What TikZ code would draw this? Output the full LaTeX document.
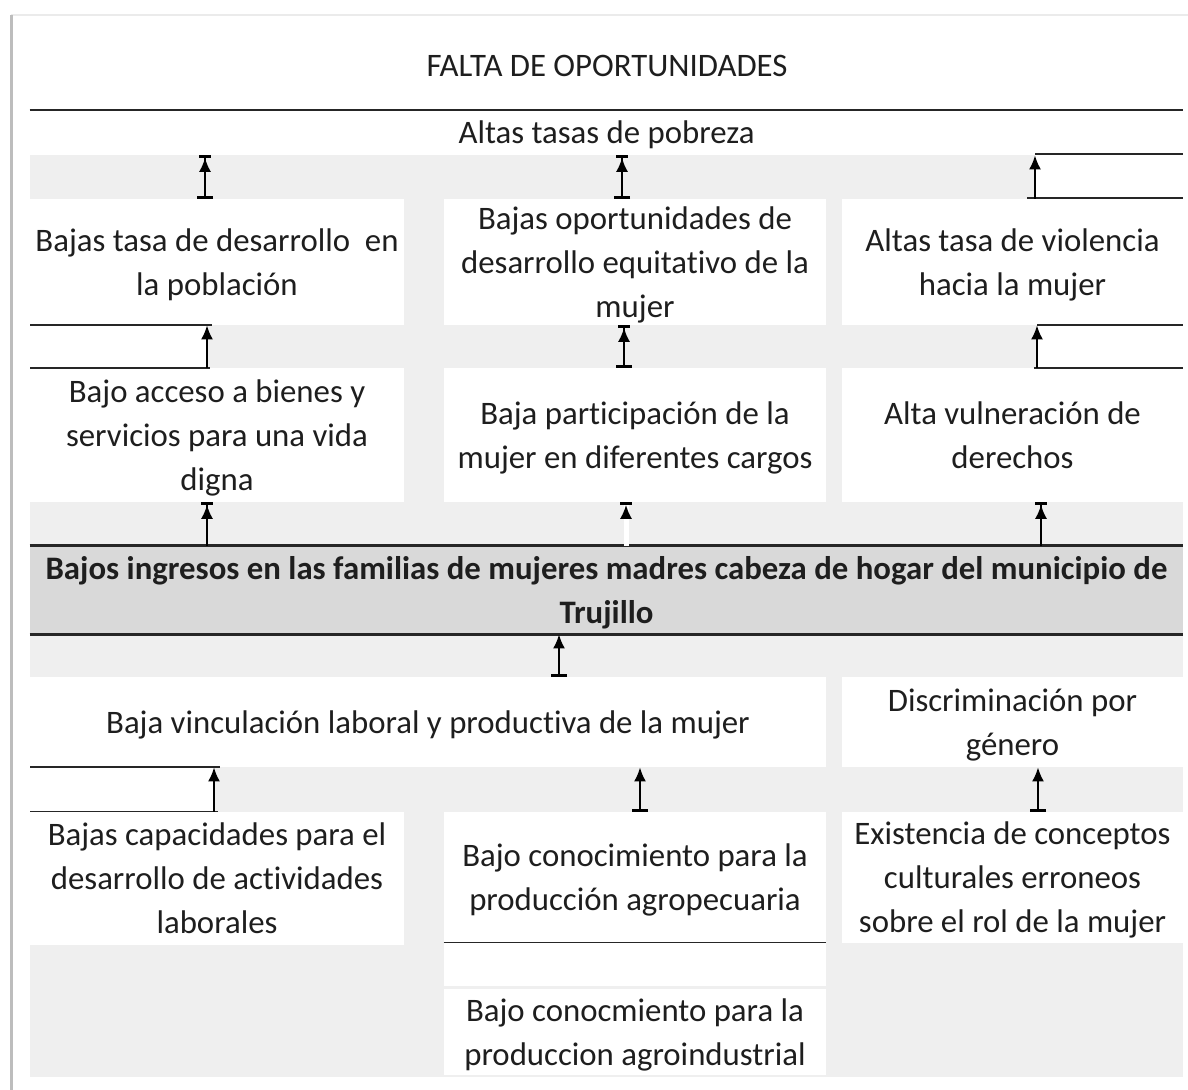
\documentclass[tikz,border=0pt]{standalone}
\usepackage{fontspec}
\setmainfont{Carlito}[Ligatures=NoCommon]
\usetikzlibrary{arrows.meta}
\definecolor{bg}{HTML}{EFEFEF}
\definecolor{core}{HTML}{D9D9D9}
\definecolor{txt}{HTML}{1E1E1E}
\definecolor{frm}{HTML}{BDBDBD}
\definecolor{frmt}{HTML}{EBEBEB}
\newcommand\myfs{\fontsize{16.4}{22}\selectfont}
\begin{document}
\begin{tikzpicture}[x=0.5pt,y=-0.5pt,
  box/.style={fill=white, inner sep=0pt, align=center, font=\myfs, text=txt, text depth=0pt},
  ln/.style={draw=black!85, line width=1pt},
  thk/.style={draw=black!85, line width=1.8pt},
  arrbase/.style={draw=black, line width=1pt},
  tipL/.style={},
  arrTB/.style={arrbase, arrows={Bar[width=8pt,line width=1.2pt]-{Latex[length=7pt,width=6pt]Bar[width=6pt,line width=1.2pt]}}},
  arrT/.style={arrbase, arrows={-{Latex[length=7pt,width=6pt]Bar[width=6pt,line width=1.2pt]}}},
  arrB/.style={arrbase, arrows={Bar[width=8pt,line width=1.2pt]-{Latex[length=7pt,width=6pt]}}},
  arrN/.style={arrbase, arrows={-{Latex[length=7pt,width=6pt]}}}
]
\useasboundingbox (0,0) rectangle (1188,1090);
% frame
\draw[frmt, line width=1pt] (11,15) -- (1188,15);
\draw[frm, line width=1.5pt] (11,15) -- (11,1090);
% gray background
\fill[bg] (30,155) rectangle (1183,1077);

% title
\node[font=\myfs, text=txt] (title) at (607,66) {FALTA DE OPORTUNIDADES};
\node[box, minimum width=576.5pt, minimum height=22.5pt] (pob) at (606.5,132.5) {Altas tasas de pobreza};
\draw[ln] (pob.north west) -- (pob.north east);

% row 1
\node[box, minimum width=187pt, minimum height=63pt] (r1a) at (217,262) {Bajas tasa de desarrollo\ \ en\\la población};
\node[box, minimum width=191pt, minimum height=63pt] (r1b) at (635,262) {Bajas oportunidades de\\desarrollo equitativo de la\\mujer};
\node[box, minimum width=170.5pt, minimum height=63pt] (r1c) at (1012.5,262) {Altas tasa de violencia\\hacia la mujer};

% side box top right
\node[fill=white, inner sep=0pt, minimum width=74pt, minimum height=22pt] (s1) at (1109,176) {};
\draw[ln] (1035,154) -- (1183,154);
\draw[ln] (1027,198) -- (1183,198);

% row 2
\node[box, minimum width=187pt, minimum height=67pt] (r2a) at (217,435) {Bajo acceso a bienes y\\servicios para una vida\\digna};
\node[box, minimum width=191pt, minimum height=67pt] (r2b) at (635,435) {Baja participación de la\\mujer en diferentes cargos};
\node[box, minimum width=170.5pt, minimum height=67pt] (r2c) at (1012.5,435) {Alta vulneración de\\derechos};

% side boxes row 1-2
\node[fill=white, inner sep=0pt, minimum width=88.5pt, minimum height=21.5pt] (s2) at (118.5,346.5) {};
\draw[ln] (30,325) -- (212,325);
\draw[ln] (30,368) -- (210,368);
\node[fill=white, inner sep=0pt, minimum width=73pt, minimum height=21.5pt] (s3) at (1110,346.5) {};
\draw[ln] (1037,325) -- (1183,325);
\draw[ln] (1034,368) -- (1183,368);

% core problem
\node[box, fill=core, minimum width=576.5pt, minimum height=44pt, font=\myfs\bfseries] (core) at (606.5,590)
  {Bajos ingresos en las familias de mujeres madres cabeza de hogar del municipio de\\Trujillo};
\draw[thk] (core.north west) -- (core.north east);
\draw[thk] (core.south west) -- (core.south east);

% row 4
\node[box, minimum width=398pt, minimum height=45pt] (r4a) at (428,722) {Baja vinculación laboral y productiva de la mujer};
\node[box, minimum width=170.5pt, minimum height=45pt] (r4b) at (1012.5,722) {Discriminación por\\género};

% side box row 4-5
\node[fill=white, inner sep=0pt, minimum width=92pt, minimum height=22.5pt] (s4) at (122,789.5) {};
\draw[ln] (30,767) -- (220,767);
\draw[ln] (30,812) -- (218,812);

% row 5
\node[box, minimum width=187pt, minimum height=66.5pt] (r5a) at (217,878.5) {Bajas capacidades para el\\desarrollo de actividades\\laborales};
\node[box, minimum width=191pt, minimum height=65.5pt] (r5b) at (635,877.5) {Bajo conocimiento para la\\producción agropecuaria};
\node[box, minimum width=170.5pt, minimum height=65.5pt] (r5c) at (1012.5,877.5) {Existencia de conceptos\\culturales erroneos\\sobre el rol de la mujer};
\draw[ln] (r5b.south west) -- (r5b.south east);
\node[fill=white, inner sep=0pt, minimum width=191pt, minimum height=21.5pt] (strip) at (635,964.5) {};

% row 6
\node[box, minimum width=191pt, minimum height=43pt] (r6) at (635,1032) {Bajo conocmiento para la\\produccion agroindustrial};

% arrows
\draw[arrTB] (r1a.north -| 205,0) -- (pob.south -| 205,0);
\draw[arrTB] (r1b.north -| 622,0) -- (pob.south -| 622,0);
\draw[arrN] (r1c.north -| 1035,0) -- (pob.south -| 1035,0);
\draw[arrN] (r2a.north -| 207,0) -- (r1a.south -| 207,0);
\draw[arrTB] (r2b.north -| 624,0) -- (r1b.south -| 624,0);
\draw[arrN] (r2c.north -| 1037,0) -- (r1c.south -| 1037,0);
\draw[arrT] (core.north -| 207,0) -- (r2a.south -| 207,0);
\draw[draw=white, line width=2.5pt, arrows={-{Latex[length=7pt,width=6pt,color=black,fill=black,line width=1pt]Bar[width=6pt,color=black,line width=1.2pt]}}] (core.north -| 626,0) -- (r2b.south -| 626,0);
\draw[arrT] (core.north -| 1041,0) -- (r2c.south -| 1041,0);
\draw[arrB] (r4a.north -| 559,0) -- (core.south -| 559,0);
\draw[arrN] (r5a.north -| 214,0) -- (r4a.south -| 214,0);
\draw[arrB] (r5b.north -| 640,0) -- (r4a.south -| 640,0);
\draw[arrB] (r5c.north -| 1038,0) -- (r4b.south -| 1038,0);
\end{tikzpicture}
\end{document}
